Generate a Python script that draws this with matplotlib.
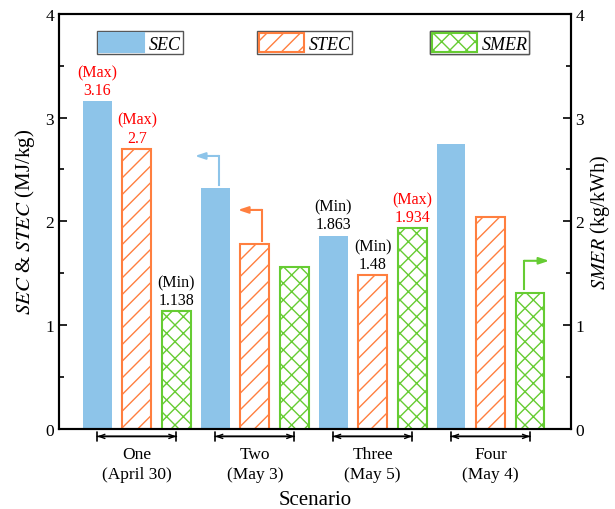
import matplotlib
matplotlib.use("Agg")
import matplotlib.pyplot as plt
from matplotlib.ticker import MultipleLocator
from matplotlib.patches import Patch
import numpy as np

plt.rcParams['font.family'] = ['Liberation Serif', 'DejaVu Serif']
plt.rcParams['mathtext.fontset'] = 'stix'
plt.rcParams['hatch.linewidth'] = 1.0

scenarios = ['One\n(April 30)', 'Two\n(May 3)', 'Three\n(May 5)', 'Four\n(May 4)']
sec = [3.16, 2.32, 1.863, 2.75]
stec = [2.7, 1.78, 1.48, 2.04]
smer = [1.138, 1.56, 1.934, 1.31]

sec_labels = {0: ('(Max)', '3.16', 'red'), 2: ('(Min)', '1.863', 'black')}
stec_labels = {0: ('(Max)', '2.7', 'red'), 2: ('(Min)', '1.48', 'black')}
smer_labels = {0: ('(Min)', '1.138', 'black'), 2: ('(Max)', '1.934', 'red')}

c_sec = '#8DC4E9'
c_stec = '#FF7F3F'
c_smer = '#66CC33'

fig = plt.figure(figsize=(6.15, 5.1), dpi=100)
ax = fig.add_axes([0.096, 0.157, 0.832, 0.814])
ax2 = ax.twinx()

x = np.arange(1, len(scenarios) + 1)
off = 0.335
w = 0.245

ax.bar(x - off, sec, w, color=c_sec, edgecolor=c_sec, linewidth=0)
ax.bar(x, stec, w, facecolor='white', edgecolor=c_stec, hatch='//', linewidth=1.5)
ax2.bar(x + off, smer, w, facecolor='white', edgecolor=c_smer, hatch='xx', linewidth=1.5)

for axis in (ax, ax2):
    axis.set_ylim(0, 4)
    axis.yaxis.set_major_locator(MultipleLocator(1))
    axis.yaxis.set_minor_locator(MultipleLocator(0.5))
    axis.tick_params(axis='y', which='major', direction='in', length=6, width=1.2, labelsize=12.5)
    axis.tick_params(axis='y', which='minor', direction='in', length=3.5, width=1.2)
    axis.set_xlim(0.34, 4.68)
    for s in axis.spines.values():
        s.set_linewidth(1.5)
ax.set_xticks([])
ax2.set_xticks([])

ax.set_ylabel(r'$\mathit{SEC}$ & $\mathit{STEC}$ (MJ/kg)', fontsize=15, labelpad=6)
ax2.set_ylabel(r'$\mathit{SMER}$ (kg/kWh)', fontsize=14.5, labelpad=3)
ax.set_xlabel('Scenario', fontsize=15, labelpad=44)

def put(axis, xs, vals, labels):
    for i, (t1, t2, col) in labels.items():
        axis.text(xs[i], vals[i] + 0.03, t1 + '\n' + t2, ha='center', va='bottom',
                  color=col, fontsize=11.5, linespacing=1.15)

put(ax, x - off, sec, sec_labels)
put(ax, x, stec, stec_labels)
put(ax2, x + off, smer, smer_labels)

# x-axis group brackets
trans = ax.get_xaxis_transform()
for i, xi in enumerate(x):
    a, b = xi - off, xi + off
    ax.annotate('', xy=(a, -0.018), xytext=(b, -0.018), xycoords=trans, textcoords=trans,
                arrowprops=dict(arrowstyle='|-|,widthA=0.3,widthB=0.3', lw=1.2, color='black',
                                shrinkA=0, shrinkB=0), annotation_clip=False)
    ax.annotate('', xy=(a, -0.018), xytext=(b, -0.018), xycoords=trans, textcoords=trans,
                arrowprops=dict(arrowstyle='<->,head_length=0.4,head_width=0.15', lw=1.0, color='black',
                                shrinkA=0, shrinkB=0), annotation_clip=False)
    ax.text(xi, -0.04, scenarios[i], transform=trans, ha='center', va='top',
            fontsize=12.5, linespacing=1.35)

# axis-pointing arrows
def elbow(axis, xv, y0, y1, x1, col):
    axis.plot([xv, xv], [y0, y1], color=col, lw=1.5)
    axis.annotate('', xy=(x1, y1), xytext=(xv, y1),
                  arrowprops=dict(arrowstyle='-|>,head_length=0.6,head_width=0.2', color=col, lw=1.5,
                                  shrinkA=0, shrinkB=0))

elbow(ax, x[1] - off + 0.03, sec[1] + 0.03, sec[1] + 0.31, x[1] - off - w / 2 - 0.05, c_sec)
elbow(ax, x[1] + 0.06, stec[1] + 0.03, stec[1] + 0.33, x[1] - w / 2 - 0.02, c_stec)
elbow(ax2, x[3] + off - 0.05, smer[3] + 0.04, smer[3] + 0.31, x[3] + off + w / 2 + 0.04, c_smer)

# legends
handles = [Patch(facecolor=c_sec, edgecolor=c_sec, linewidth=1.5),
           Patch(facecolor='white', edgecolor=c_stec, hatch='//', linewidth=1.5),
           Patch(facecolor='white', edgecolor=c_smer, hatch='xx', linewidth=1.5)]
names = ['SEC', 'STEC', 'SMER']
centers = [0.158, 0.48, 0.822]
for h, n, cx in zip(handles, names, centers):
    lg = ax2.legend([h], [n], loc='center', bbox_to_anchor=(cx, 0.93), bbox_transform=ax.transAxes,
                    fancybox=False, edgecolor='#555555', framealpha=1,
                    prop={'style': 'italic', 'size': 13, 'family': 'Liberation Serif'},
                    handlelength=2.5, handleheight=1.25, borderpad=0.1, handletextpad=0.25,
                    borderaxespad=0)
    lg.get_frame().set_linewidth(1.0)
    ax2.add_artist(lg)

fig.savefig('out.png', dpi=100)
